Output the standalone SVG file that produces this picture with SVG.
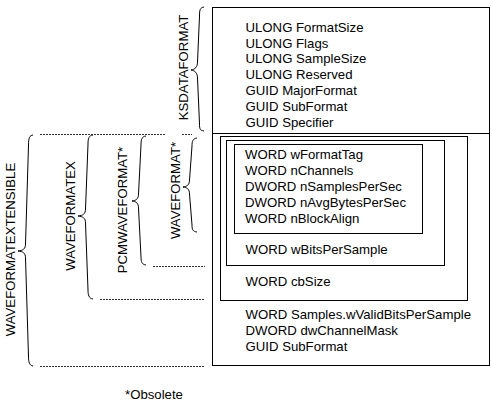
<svg xmlns="http://www.w3.org/2000/svg" width="491" height="405" viewBox="0 0 491 405">
<style>
text{font-family:"Liberation Sans",Arial,sans-serif;font-size:13.2px;fill:#000}
.box{fill:none;stroke:#000;stroke-width:1}
.brace{fill:none;stroke:#000;stroke-width:1}
.dot{fill:none;stroke:#333;stroke-width:1;stroke-dasharray:2 1}
</style>
<rect width="491" height="405" fill="#fff"/>
<g id="ksdataformat">
<rect class="box" x="212.5" y="7.5" width="277" height="358"/>
<line class="box" x1="212.5" y1="133.5" x2="489.5" y2="133.5"/>
<text x="245.5" y="31.7">ULONG FormatSize</text>
<text x="245.5" y="47.5">ULONG Flags</text>
<text x="245.5" y="63.4">ULONG SampleSize</text>
<text x="245.5" y="79.2">ULONG Reserved</text>
<text x="245.5" y="95">GUID MajorFormat</text>
<text x="245.5" y="110.9">GUID SubFormat</text>
<text x="245.5" y="126.7">GUID Specifier</text>
</g>
<g id="waveformatex">
<rect class="box" x="220.5" y="136.5" width="247" height="164"/>
<text x="245.5" y="286">WORD cbSize</text>
</g>
<g id="pcmwaveformat">
<rect class="box" x="226.5" y="140.5" width="218" height="125"/>
<text x="245.5" y="254.3">WORD wBitsPerSample</text>
</g>
<g id="waveformat">
<rect class="box" x="234.5" y="144.5" width="188" height="89"/>
<text x="245" y="159.3">WORD wFormatTag</text>
<text x="245" y="175.1">WORD nChannels</text>
<text x="245" y="191">DWORD nSamplesPerSec</text>
<text x="245" y="206.8">DWORD nAvgBytesPerSec</text>
<text x="245" y="222.6">WORD nBlockAlign</text>
</g>
<g id="waveformatextensible">
<text x="245.5" y="319.3">WORD Samples.wValidBitsPerSample</text>
<text x="245.5" y="335">DWORD dwChannelMask</text>
<text x="245.5" y="350.8">GUID SubFormat</text>
</g>
<g id="label-ksdataformat">
<path class="brace" d="M204,7 C200,7.5 199.5,10 199.5,16 L197.5,62 C197.5,67 195,69.5 191,70 C195,70.5 197.5,73 197.5,78 L199.5,124 C199.5,129 200,130.5 204,131"/>
<text transform="translate(188,67.5) rotate(-90)" text-anchor="middle">KSDATAFORMAT</text>
</g>
<g id="label-waveformat">
<path class="brace" d="M197,138 C193,138.5 192,141 192,146 L189.5,180 C189.5,185 187,186.5 183,187 C187,187.5 189.5,189 189.5,194 L192,225 C192,230 193,231.5 197,232"/>
<text transform="translate(180,190.5) rotate(-90)" text-anchor="middle">WAVEFORMAT*</text>
</g>
<g id="label-pcmwaveformat">
<path class="brace" d="M146,136 C142,136.5 141,139 141,145 L138.5,194 C138.5,199 136,200.5 132,201 C136,201.5 138.5,203 138.5,208 L141,257 C141,262 142,264.5 146,265"/>
<text transform="translate(127,210) rotate(-90)" text-anchor="middle">PCMWAVEFORMAT*</text>
</g>
<g id="label-waveformatex">
<path class="brace" d="M93,135 C89,135.5 88,138 88,144 L85.5,209 C85.5,214 83,215.5 78,216 C83,216.5 85.5,218 85.5,223 L88,290 C88,295 89,298.5 93,299"/>
<text transform="translate(75,216) rotate(-90)" text-anchor="middle">WAVEFORMATEX</text>
</g>
<g id="label-waveformatextensible">
<path class="brace" d="M33,135 C29.5,135.5 28.5,138 28.5,145 L25.5,244 C25.5,249 23,250.5 18,251 C23,251.5 25.5,253 25.5,258 L28.5,357 C28.5,362 29.5,365.5 33,366"/>
<text transform="translate(15,249.5) rotate(-90)" text-anchor="middle">WAVEFORMATEXTENSIBLE</text>
</g>
<g id="connectors">
<line class="dot" x1="40" y1="134.5" x2="166" y2="134.5"/>
<line class="dot" x1="182" y1="134.5" x2="192" y2="134.5"/>
<line class="dot" x1="153" y1="266.5" x2="205" y2="266.5"/>
<line class="dot" x1="100" y1="299.5" x2="205" y2="299.5"/>
<line class="dot" x1="40" y1="366.5" x2="205" y2="366.5"/>
</g>
<g id="footnote">
<text x="125" y="399">*Obsolete</text>
</g>
</svg>
